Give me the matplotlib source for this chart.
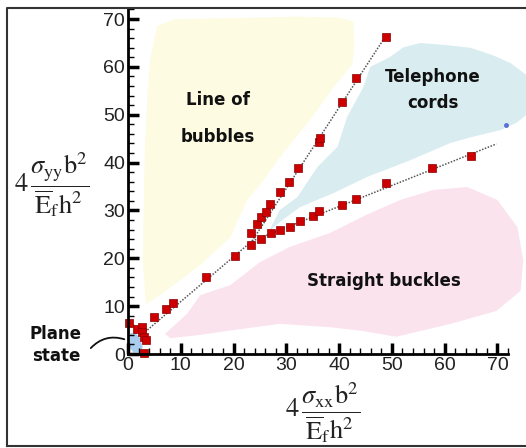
import matplotlib
matplotlib.use('Agg')
import matplotlib.pyplot as plt
from matplotlib.patches import Polygon
from matplotlib.ticker import MultipleLocator

# data
low_x = [0.1, 1.8, 2.6, 2.6, 3.1, 3.4, 3.1, 5.0, 7.2, 8.6, 14.8, 20.3]
low_y = [6.5, 5.2, 5.6, 4.7, 3.5, 2.9, 0.2, 7.7, 9.5, 10.6, 16.1, 20.5]

steep_x = [23.3, 24.5, 25.2, 26.2, 26.9, 28.8, 30.6, 32.3, 36.2, 36.4, 40.6, 43.3, 48.8]
steep_y = [25.3, 27.1, 28.6, 29.6, 31.3, 33.8, 35.9, 38.8, 44.3, 45.2, 52.6, 57.6, 66.2]

shallow_x = [23.3, 25.2, 27.1, 28.8, 30.7, 32.6, 35.1, 36.2, 40.6, 43.3, 48.8, 57.7, 65.0]
shallow_y = [22.8, 24.0, 25.3, 25.9, 26.5, 27.8, 28.8, 29.9, 31.1, 32.4, 35.7, 38.8, 41.3]

# fitted dotted lines (common trunk, then two branches)
trunk_x, trunk_y = [2.8, 23.5], [4.2, 23.6]
steep_fit_x, steep_fit_y = [23.5, 48.8], [23.6, 66.4]
shallow_fit_x, shallow_fit_y = [23.5, 69.8], [23.6, 43.9]

# regime regions
bubbles_zone = [(3.4, 10.5), (2.8, 19.6), (3.0, 32), (3.2, 42.6), (3.6, 52), (4.2, 61.4),
                (5.5, 68.5), (9, 70), (20, 70.2), (32, 70.5), (40, 70.3), (42.7, 69.5),
                (42.9, 64), (42.5, 60.5), (38.9, 55.7), (34.5, 48.9), (29.4, 42),
                (25, 35.3), (22.6, 32.2), (19.4, 24.4), (13.7, 18.6), (6.1, 12.3)]
cords_zone = [(26.6, 25.5), (28.8, 30.1), (32.1, 32.8), (35.9, 39.1), (39.7, 43.3),
              (41.5, 49.5), (44.6, 55.8), (45.9, 60.0), (49.7, 62.1), (52.2, 64.1),
              (55.4, 65.0), (60, 64.6), (64.9, 64.0), (69, 62.5), (72.5, 60.8),
              (75.5, 58.3), (75.5, 50), (73.6, 48.3), (70.6, 46.8), (65, 45.3),
              (61.1, 44.1), (53.5, 40.5), (45.3, 37.0), (38.9, 33.6), (32.6, 30.7),
              (28.8, 27.6)]
buckles_zone = [(7.0, 4.2), (11.2, 8.4), (13.7, 12.3), (19.4, 14.4), (25.0, 19.2),
                (30.7, 22.4), (38.3, 25.3), (45, 29), (51.6, 32.2), (57.9, 34.3),
                (64.3, 34.9), (70.0, 32.2), (73.8, 26.5), (74.9, 19.6), (74.4, 13.2),
                (69.8, 9.0), (61.1, 6.3), (50.8, 3.6), (44.6, 4.8), (38.3, 5.6),
                (28.8, 6.3), (20, 5.0), (13.7, 4.0), (8.0, 3.3)]
plane_zone = [(0.3, 4.3), (1.3, 4.5), (2.2, 3.5), (2.8, 1.5), (2.5, 0.4), (1.0, 0.3), (0.3, 1.5)]

plt.rcParams['mathtext.fontset'] = 'stix'

fig = plt.figure(figsize=(5.26, 4.48), dpi=100)
ax = fig.add_axes([0.2433, 0.2098, 0.7224, 0.769])

for pts, col in [(bubbles_zone, '#fdfbe2'), (cords_zone, '#d9edf1'),
                 (buckles_zone, '#fbe3ee'), (plane_zone, '#a9cdee')]:
    ax.add_patch(Polygon(pts, closed=True, facecolor=col, edgecolor='none',
                         clip_on=False, zorder=0))

for lx, ly in [(trunk_x, trunk_y), (steep_fit_x, steep_fit_y), (shallow_fit_x, shallow_fit_y)]:
    ax.plot(lx, ly, color='#555555', lw=1.1, ls=(0, (1, 1)), zorder=2)

for sx, sy in [(low_x, low_y), (steep_x, steep_y), (shallow_x, shallow_y)]:
    ax.plot(sx, sy, 's', ms=5.2, mfc='#cc0000', mec='#8a0000', mew=0.5,
            ls='none', clip_on=False, zorder=3)

ax.plot([71.7], [47.8], 'o', ms=2.5, color='#5a6fd8', clip_on=False, zorder=3)

ax.set_xlim(0, 72)
ax.set_ylim(0, 72)
ax.xaxis.set_major_locator(MultipleLocator(10))
ax.xaxis.set_minor_locator(MultipleLocator(2))
ax.yaxis.set_major_locator(MultipleLocator(10))
ax.yaxis.set_minor_locator(MultipleLocator(2))
ax.spines['top'].set_visible(False)
ax.spines['right'].set_visible(False)
for s in ['left', 'bottom']:
    ax.spines[s].set_linewidth(2)
    ax.spines[s].set_zorder(4)
ax.set_facecolor('none')
ax.tick_params(which='major', direction='in', length=8, width=2.5,
               labelsize=14, pad=2)
ax.tick_params(which='minor', direction='in', length=4, width=1)
for lab in ax.get_xticklabels() + ax.get_yticklabels():
    lab.set_fontfamily('Liberation Sans')
    lab.set_color('#222222')

tfont = dict(fontfamily='DejaVu Sans', fontweight='bold', fontsize=12,
             color='#111111', ha='center', va='center')
ax.text(17.1, 53.1, 'Line of', **tfont)
ax.text(17.1, 45.3, 'bubbles', **tfont)
ax.text(57.7, 57.9, 'Telephone', **tfont)
ax.text(57.7, 52.4, 'cords', **tfont)
ax.text(48.4, 15.3, 'Straight buckles', **tfont)
ax.text(-13.7, 4.2, 'Plane', clip_on=False, **tfont)
ax.text(-13.5, -0.4, 'state', clip_on=False, **tfont)

ax.annotate('', xy=(-0.2, 2.9), xytext=(-7.4, 0.8),
            arrowprops=dict(arrowstyle='-', color='#111111', lw=1.3,
                            connectionstyle='arc3,rad=-0.35'),
            annotation_clip=False)

lab_y = r'$4\,\dfrac{\sigma_{\mathrm{yy}}\mathrm{b}^2}{\overline{\mathrm{E}}_{\mathrm{f}}\mathrm{h}^2}$'
lab_x = r'$4\,\dfrac{\sigma_{\mathrm{xx}}\mathrm{b}^2}{\overline{\mathrm{E}}_{\mathrm{f}}\mathrm{h}^2}$'
fig.text(0.099, 0.588, lab_y, fontsize=19, ha='center', va='center', color='#222222')
fig.text(0.614, 0.078, lab_x, fontsize=19, ha='center', va='center', color='#222222')

# outer frame of the picture
fig.add_artist(plt.Line2D([0.0133, 0.0133, 1.0], [0.0045, 0.982, 0.982],
                          transform=fig.transFigure, color='#333333', lw=1.5))
fig.add_artist(plt.Line2D([0.0133, 1.0], [0.0045, 0.0045],
                          transform=fig.transFigure, color='#333333', lw=1.5))

fig.savefig('out.png', dpi=100)
